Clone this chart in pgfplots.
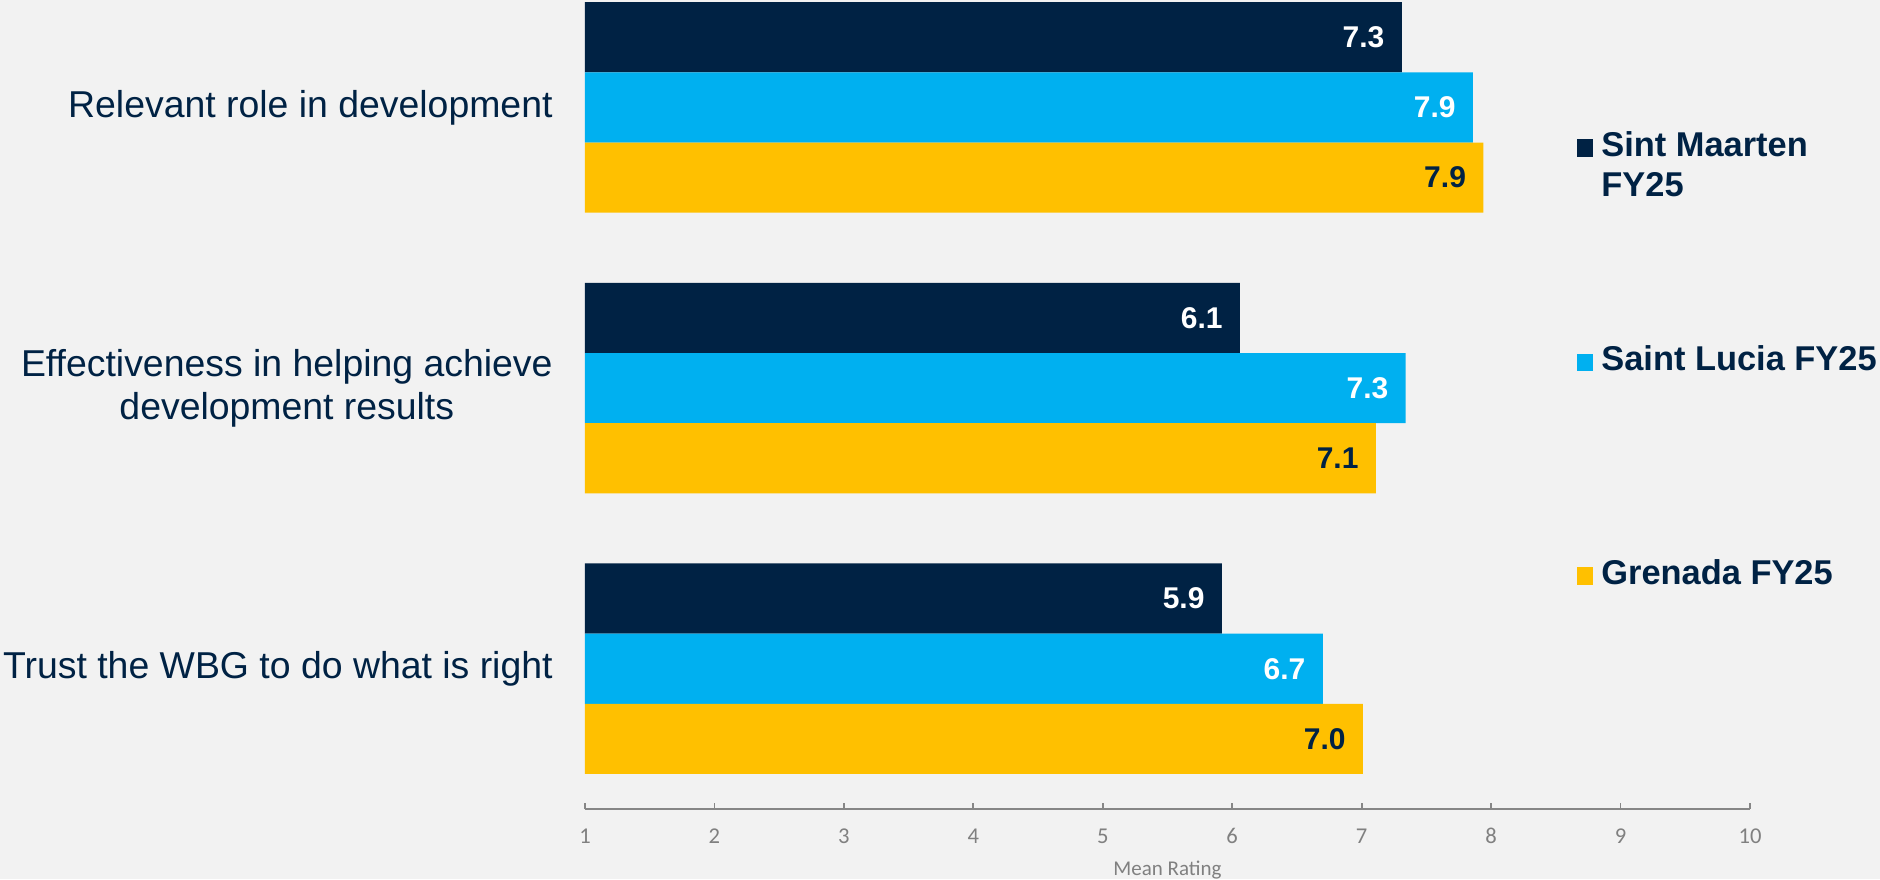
\documentclass[border=0pt]{standalone}
\usepackage{fontspec}
\setmainfont{Liberation Sans}
\newfontfamily\calibri{Carlito}
\usepackage{pgfplots}
\pgfplotsset{compat=1.18}

\definecolor{navy}{RGB}{0,34,68}
\definecolor{skyb}{RGB}{0,176,240}
\definecolor{gold}{RGB}{255,192,0}
\definecolor{bgc}{RGB}{242,242,242}
\definecolor{axgray}{RGB}{134,134,134}
\definecolor{lblgray}{RGB}{128,128,128}

\begin{document}
\begin{tikzpicture}
\useasboundingbox (0,0) rectangle (940pt,439.5pt);
\fill[bgc] (0,0) rectangle (940pt,439.5pt);
\clip (0,0) rectangle (940pt,439.5pt);
\begin{axis}[
  at={(292.5pt,35pt)}, anchor=south west,
  scale only axis, width=582.5pt, height=404.5pt,
  xbar, bar width=0.25,
  xmin=1, xmax=10, ymin=-0.5, ymax=2.383,
  axis lines*=left,
  y axis line style={draw=none},
  x axis line style={axgray, line width=0.9pt},
  xtick={1,...,10},
  tick align=inside,
  major tick length=3pt,
  xtick style={axgray, line width=0.9pt},
  ytick={0,1,2},
  ytick style={draw=none},
  yticklabels={{Trust the WBG to do what is right},{Effectiveness in helping achieve\\development results},{Relevant role in development}},
  yticklabel style={font=\fontsize{18.7}{21.5}\selectfont, text=navy, align=center, anchor=east, inner sep=0pt, xshift=-16pt},
  xticklabel style={font=\calibri\fontsize{11.3}{13}\selectfont, text=lblgray, anchor=base, inner sep=0pt, yshift=-17pt},
  /pgf/number format/assume math mode=true,
  xlabel={Mean Rating},
  every axis x label/.style={at={(axis description cs:0.5,0)}, anchor=base, yshift=-33pt, font=\calibri\fontsize{10.5}{12}\selectfont, text=lblgray},
  point meta=x,
  nodes near coords={\pgfmathprintnumber[fixed,fixed zerofill,precision=1]{\pgfplotspointmeta}},
  every node near coord/.append style={font=\bfseries\fontsize{15}{18}\selectfont, anchor=east, inner sep=0pt, xshift=-8.5pt},
]
% Sint Maarten FY25
\addplot[fill=navy, draw=none, bar shift=0.25, every node near coord/.append style={text=white}]
  coordinates {(7.31,2) (6.06,1) (5.92,0)};
% Saint Lucia FY25
\addplot[fill=skyb, draw=none, bar shift=0, every node near coord/.append style={text=white}]
  coordinates {(7.86,2) (7.34,1) (6.70,0)};
% Grenada FY25
\addplot[fill=gold, draw=none, bar shift=-0.25, every node near coord/.append style={text=navy}]
  coordinates {(7.94,2) (7.11,1) (7.01,0)};
\end{axis}
% legend
\begin{scope}[every node/.style={anchor=base west, inner sep=0pt, font=\bfseries\fontsize{17.2}{20}\selectfont, text=navy}]
\node at (788.5pt,361pt) {\textcolor{navy}{\rule{8pt}{9pt}}\hspace{4pt}Sint Maarten};
\node at (800.5pt,341pt) {FY25};
\node at (788.5pt,254pt) {\textcolor{skyb}{\rule{8pt}{8.5pt}}\hspace{4pt}Saint Lucia FY25};
\node at (788.5pt,147pt) {\textcolor{gold}{\rule{8pt}{9pt}}\hspace{4pt}Grenada FY25};
\end{scope}
\end{tikzpicture}
\end{document}
